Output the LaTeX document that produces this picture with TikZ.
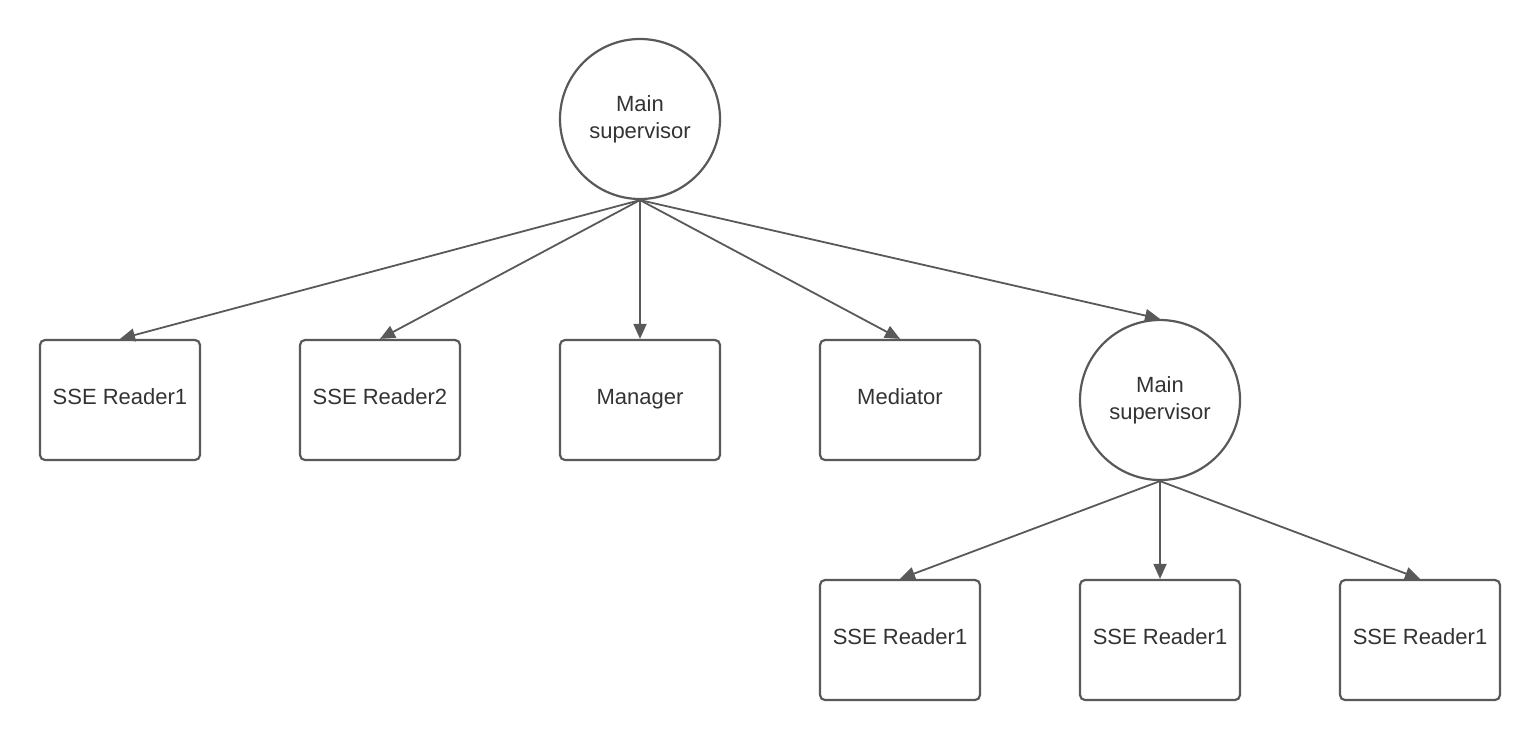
\documentclass[tikz,border=0pt]{standalone}
\usepackage{fontspec}
\setmainfont{Liberation Sans}
\usetikzlibrary{arrows.meta}
\definecolor{edge}{HTML}{595959}
\definecolor{txt}{HTML}{333333}
\begin{document}
\begin{tikzpicture}[x=0.5pt,y=-0.5pt,
  box/.style={draw=edge,line width=1.1pt,rounded corners=2.5pt,minimum width=80pt,minimum height=60pt,inner sep=0pt,text height=8pt,text depth=4pt,text=txt,font=\fontsize{11}{13.5}\selectfont},
  sup/.style={draw=edge,line width=1.1pt,circle,minimum size=80pt,inner sep=0pt,text=txt,align=center,font=\fontsize{11}{13.5}\selectfont},
  link/.style={draw=edge,line width=0.9pt,-{Triangle[length=7.5pt,width=6.5pt]}}]
\useasboundingbox (0,0) rectangle (1540,740);
\node[sup] (root) at (640,119) {Main\\supervisor};
\node[box] (r1) at (120,400) {SSE Reader1};
\node[box] (r2) at (380,400) {SSE Reader2};
\node[box] (mgr) at (640,400) {Manager};
\node[box] (med) at (900,400) {Mediator};
\node[sup] (sub) at (1160,400) {Main\\supervisor};
\node[box] (s1) at (900,640) {SSE Reader1};
\node[box] (s2) at (1160,640) {SSE Reader1};
\node[box] (s3) at (1420,640) {SSE Reader1};
\foreach \t in {r1,r2,mgr,med,sub}
  \draw[link] (root.south) -- (\t.north);
\foreach \t in {s1,s2,s3}
  \draw[link] (sub.south) -- (\t.north);
\end{tikzpicture}
\end{document}
